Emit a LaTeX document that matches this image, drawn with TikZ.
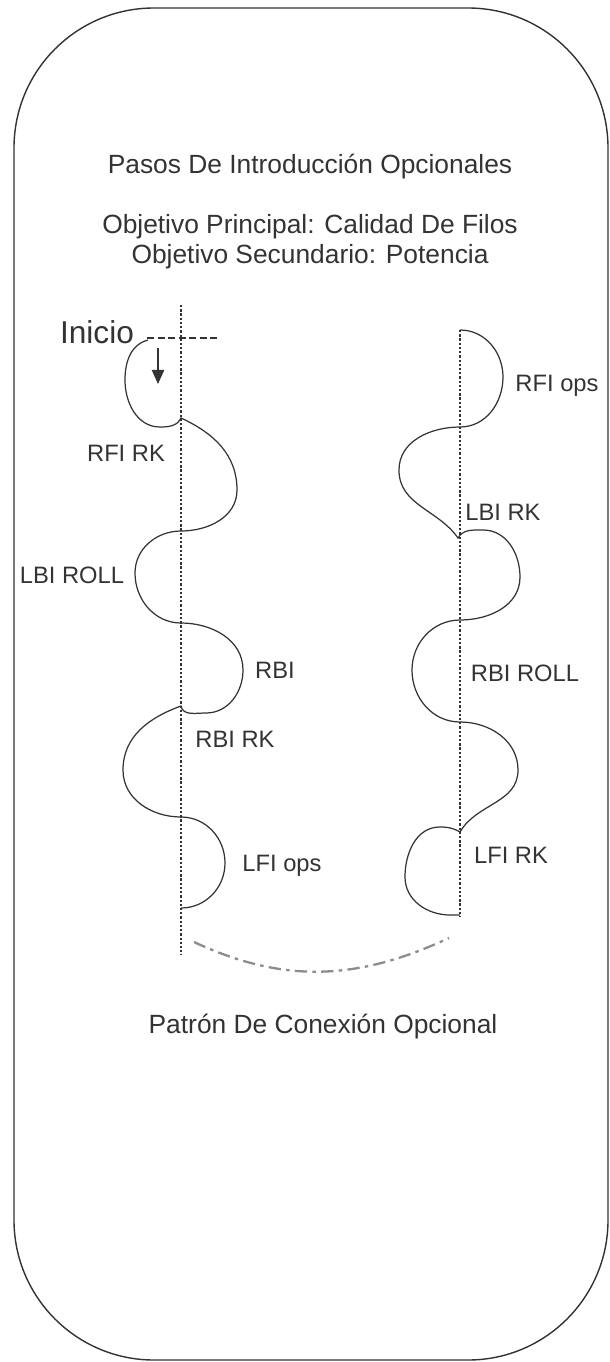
\documentclass[tikz,border=0pt]{standalone}
\usepackage{fontspec}
\setmainfont{Liberation Sans}
\usetikzlibrary{arrows.meta,positioning}
\definecolor{inkgray}{rgb}{0.2,0.2,0.2}
\definecolor{arcgray}{rgb}{0.55,0.55,0.55}
\tikzstyle{rink} = [draw=inkgray, line width=0.8pt, rounded corners=2.8cm]
\tikzstyle{guide} = [inkgray, line width=0.8pt, dash pattern=on 1.3pt off 1.1pt]
\tikzstyle{skate} = [inkgray, line width=0.7pt]
\tikzstyle{tag} = [inner sep=0pt, font=\fontsize{13.5}{16}\selectfont, text=inkgray]
\tikzstyle{heading} = [inner sep=0pt, align=center, font=\fontsize{15}{17}\selectfont, text=inkgray]
\tikzstyle{link} = [arcgray, line width=1.3pt, dash pattern=on 7pt off 3pt on 2pt off 3pt]

\begin{document}
\begin{tikzpicture}[x=0.02cm,y=0.02cm]
\useasboundingbox (0,0) rectangle (609,-1362);
\draw[rink] (14,-8) rectangle (608,-1360);
% titles
\draw (310,-167) node (intro) [heading] {Pasos De Introducción Opcionales};
\draw (310,-242) node (goals) [heading] {Objetivo Principal: Calidad De Filos\\Objetivo Secundario: Potencia};
\draw (323,-1027) node (conn) [heading] {Patrón De Conexión Opcional};
\draw (97,-332) node (start) [tag, font=\fontsize{18}{20}\selectfont] {Inicio};
% dotted guides
\coordinate (lt) at (181,-305);
\coordinate (lb) at (181,-955);
\coordinate (rt) at (460,-330);
\coordinate (rb) at (460,-917);
\draw[guide] (lt)--(lb);
\draw[guide] (rt)--(rb);
% start mark
\coordinate (s1) at (147,-338);
\coordinate (s2) at (218,-338);
\coordinate (a1) at (158,-348);
\coordinate (a2) at (158,-384);
\draw[inkgray, line width=0.7pt, dash pattern=on 4pt off 2pt] (s1)--(s2);
\draw[inkgray, line width=0.8pt, -{Triangle[length=8pt,width=7pt]}] (a1)--(a2);
% steps
\draw (126,-453) node (rfirk) [tag] {RFI RK};
\draw (72,-575) node (lbiroll) [tag] {LBI ROLL};
\draw (275,-670) node (rbi) [tag] {RBI};
\draw (235,-739) node (rbirk) [tag] {RBI RK};
\draw (282,-866) node (lfiops) [tag] {LFI ops};
\draw (557,-386) node (rfiops) [tag] {RFI ops};
\draw (503,-512) node (lbirk) [tag] {LBI RK};
\draw (525,-673) node (rbiroll) [tag] {RBI ROLL};
\draw (511,-855) node (lfirk) [tag] {LFI RK};
% left pattern
\draw[skate] (148,-340) to[out=195,in=90] (125,-380) to[out=-90,in=180] (160,-427) to[out=0,in=-115] (181,-418)
  to[out=-25,in=90] (237,-490) to[out=-90,in=0] (181,-531)
  to[out=180,in=90] (135,-573) to[out=-90,in=180] (181,-623)
  to[out=0,in=90] (243,-670) to[out=-90,in=0] (206,-713) to[out=180,in=-80] (181,-706)
  to[out=200,in=90] (123,-770) to[out=-90,in=180] (181,-817)
  to[out=0,in=90] (225,-863) to[out=-90,in=0] (181,-908);
% right pattern
\draw[skate] (460,-330) to[out=0,in=90] (503,-377) to[out=-90,in=0] (460,-427)
  to[out=180,in=90] (399,-470) to[out=-90,in=125] (458,-538)
  to[out=60,in=180] (483,-530) to[out=0,in=90] (520,-577) to[out=-90,in=0] (460,-620)
  to[out=180,in=90] (412,-670) to[out=-90,in=180] (460,-722)
  to[out=0,in=90] (518,-770) to[out=-90,in=60] (460,-832)
  to[out=150,in=0] (440,-827) to[out=180,in=90] (405,-877) to[out=-90,in=180] (450,-915) -- (460,-915);
% connection
\coordinate (c1) at (194,-942);
\coordinate (c2) at (449,-938);
\draw[link] (c1) to[out=-25,in=-155] (c2);
\end{tikzpicture}
\end{document}
